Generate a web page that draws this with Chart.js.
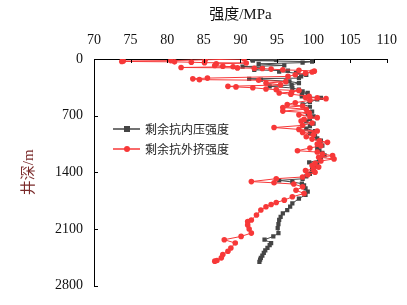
<!DOCTYPE html>
<html>
<head>
<meta charset="utf-8">
<script src="https://cdn.jsdelivr.net/npm/chart.js@4/dist/chart.umd.min.js"></script>
<style>
html,body{margin:0;padding:0;background:#fff;}
#wrap{width:407px;height:305px;position:relative;}
</style>
</head>
<body>
<div id="wrap"><canvas id="c" width="407" height="305"></canvas></div>
<script>
// ---- data ----
const seriesNames = ["剩余抗内压强度", "剩余抗外挤强度"];
const xTickValues = [70, 75, 80, 85, 90, 95, 100, 105, 110];
const yTickValues = [0, 700, 1400, 2100, 2800];

const depthInner = [0,5,12,20,33,45,60,80,94,110,134,145,155,175,195,216,236,245,255,277,297,320,338,358,379,400,420,440,461,480,500,530,560,590,620,650,680,710,740,770,800,830,860,890,920,950,980,1010,1040,1070,1100,1130,1160,1190,1220,1250,1276,1300,1330,1360,1390,1420,1450,1480,1500,1520,1540,1561,1600,1640,1680,1724,1785,1825,1866,1907,1950,1989,2040,2090,2151,2192,2233,2274,2300,2335,2365,2396,2430,2457,2480,2506];
const strengthInner = [94.8,91.6,94.9,91.7,99.8,98.5,92.5,96.0,90.3,93.0,91.9,96.5,95.3,97.6,99.0,98.3,98.0,91.2,92.8,96.7,98.0,97.0,94.0,97.1,98.0,98.5,99.2,98.4,98.4,101.0,100.5,99.5,98.5,99.5,99.0,99.8,99.2,100.0,99.5,99.0,100.0,99.5,99.0,100.2,99.5,100.2,100.5,101.0,100.8,101.2,100.5,100.8,101.2,101.5,101.0,100.8,99.4,100.5,100.2,99.8,100.0,99.5,99.0,98.5,95.3,97.1,98.4,98.7,98.9,99.2,98.9,98.0,97.1,96.8,96.4,95.8,95.5,95.3,95.2,95.1,95.2,94.5,93.3,94.2,94.0,93.7,93.4,93.2,93.0,92.8,92.7,92.6];

const depthOuter = [0,10,20,25,30,35,40,45,50,60,80,90,95,105,110,114,118,125,134,140,150,160,175,195,215,236,245,255,262,280,297,320,338,345,355,370,379,390,410,420,435,461,475,480,490,510,540,562,580,600,620,644,664,690,710,725,746,766,790,820,847,870,890,908,935,960,990,1010,1030,1050,1072,1100,1133,1150,1175,1194,1214,1235,1260,1290,1316,1336,1360,1377,1400,1430,1458,1479,1515,1530,1545,1580,1622,1662,1703,1744,1773,1797,1825,1866,1928,1989,2009,2050,2100,2151,2192,2233,2274,2335,2376,2416,2457,2490,2498];
const strengthOuter = [90.5,85.2,80.5,74.0,73.8,81.0,83.3,85.1,90.8,86.7,86.5,87.6,89.0,81.9,89.6,91.9,93.0,94.2,95.8,98.0,100.1,99.8,98.9,97.5,96.5,85.5,83.5,84.4,92.5,96.2,93.5,95.5,88.3,89.4,91.7,93.5,94.9,98.0,97.0,95.3,96.9,99.4,98.9,100.5,101.7,99.5,97.5,96.4,98.5,95.8,99.0,95.8,99.4,98.0,99.5,100.5,98.7,98.3,99.8,98.5,94.6,98.0,100.5,98.5,100.0,99.0,99.8,100.8,101.9,100.5,101.0,99.5,97.8,100.5,101.2,102.6,100.7,102.8,101.0,100.2,99.8,100.7,100.0,98.9,100.2,99.2,98.5,94.9,91.5,94.6,97.3,98.5,97.6,98.7,97.1,96.0,94.9,94.2,93.5,92.8,92.2,91.5,91.0,91.0,91.2,91.5,90.1,87.8,89.3,88.7,88.3,87.6,87.4,86.8,86.5];

// ---- styles ----
const grayColor = '#454545';
const redColor = '#f73838';
const numFont = "'Liberation Serif', 'Times New Roman', serif";
const cjkFont = "'Liberation Serif', 'Noto Sans CJK SC', serif";

function toPoints(depths, vals){ return depths.map((d,i)=>({x: vals[i], y: d})); }

const insideTicks = {
  id: 'insideTicks',
  afterDraw(chart){
    const ctx = chart.ctx, xs = chart.scales.x, ys = chart.scales.y;
    ctx.save();
    ctx.strokeStyle = '#000';
    ctx.lineWidth = 1;
    ctx.beginPath();
    xTickValues.forEach(v=>{
      const px = Math.round(xs.getPixelForValue(v)) + 0.5;
      ctx.moveTo(px, ys.top); ctx.lineTo(px, ys.top + 4);
    });
    yTickValues.forEach(v=>{
      const py = Math.round(ys.getPixelForValue(v)) + 0.5;
      ctx.moveTo(xs.left, py); ctx.lineTo(xs.left + 4, py);
    });
    ctx.stroke();
    ctx.restore();
  }
};

const insideLegend = {
  id: 'insideLegend',
  afterDraw(chart){
    const ctx = chart.ctx;
    const items = [
      {name: seriesNames[0], color: grayColor, style: 'rect', y: 129},
      {name: seriesNames[1], color: redColor, style: 'circle', y: 149}
    ];
    ctx.save();
    items.forEach(it=>{
      ctx.strokeStyle = it.color; ctx.lineWidth = 1.5;
      ctx.beginPath(); ctx.moveTo(113, it.y); ctx.lineTo(140, it.y); ctx.stroke();
      ctx.fillStyle = it.color;
      if (it.style === 'rect') { ctx.fillRect(124, it.y - 3, 6, 6); }
      else { ctx.beginPath(); ctx.arc(127, it.y, 3, 0, Math.PI*2); ctx.fill(); }
      ctx.fillStyle = '#222';
      ctx.font = "12px 'Noto Sans CJK SC', sans-serif";
      ctx.textBaseline = 'middle';
      ctx.textAlign = 'left';
      ctx.fillText(it.name, 145, it.y);
    });
    ctx.restore();
  }
};

new Chart(document.getElementById('c'), {
  type: 'scatter',
  data: {
    datasets: [
      {
        label: seriesNames[0],
        data: toPoints(depthInner, strengthInner),
        showLine: true,
        borderColor: grayColor,
        backgroundColor: grayColor,
        borderWidth: 1,
        pointStyle: 'rect',
        pointRadius: 3,
        pointBorderWidth: 0,
        order: 2
      },
      {
        label: seriesNames[1],
        data: toPoints(depthOuter, strengthOuter),
        showLine: true,
        borderColor: redColor,
        backgroundColor: redColor,
        borderWidth: 1,
        pointStyle: 'circle',
        pointRadius: 2.8,
        pointBorderWidth: 0,
        order: 1
      }
    ]
  },
  options: {
    responsive: false,
    animation: false,
    events: [],
    layout: { padding: { left: 0, right: 19, top: 0, bottom: 17 } },
    plugins: { legend: { display: false }, tooltip: { enabled: false } },
    scales: {
      x: {
        type: 'linear',
        position: 'top',
        min: 70, max: 110,
        afterBuildTicks(s){ s.ticks = xTickValues.map(v=>({value:v})); },
        afterFit(s){ s.height = 59; },
        grid: { display: false, drawTicks: false },
        border: { display: true, color: '#000', width: 1 },
        ticks: { color: '#111', font: { family: numFont, size: 14 }, padding: 10, maxRotation: 0,
                 callback: v => String(v) },
        title: { display: true, text: '强度/MPa', color: '#111', font: { family: cjkFont, size: 15 }, padding: { top: 6, bottom: 0 } }
      },
      y: {
        type: 'linear',
        reverse: true,
        min: 0, max: 2800,
        afterBuildTicks(s){ s.ticks = yTickValues.map(v=>({value:v})); },
        afterFit(s){ s.width = 94; },
        grid: { display: false, drawTicks: false },
        border: { display: true, color: '#000', width: 1 },
        ticks: { color: '#111', font: { family: numFont, size: 14 }, padding: 11,
                 callback: v => String(v) },
        title: { display: true, text: '井深/m', color: '#7a2a2a', font: { family: cjkFont, size: 15 }, padding: { top: 20, bottom: 0 } }
      }
    }
  },
  plugins: [insideTicks, insideLegend]
});
</script>
</body>
</html>
